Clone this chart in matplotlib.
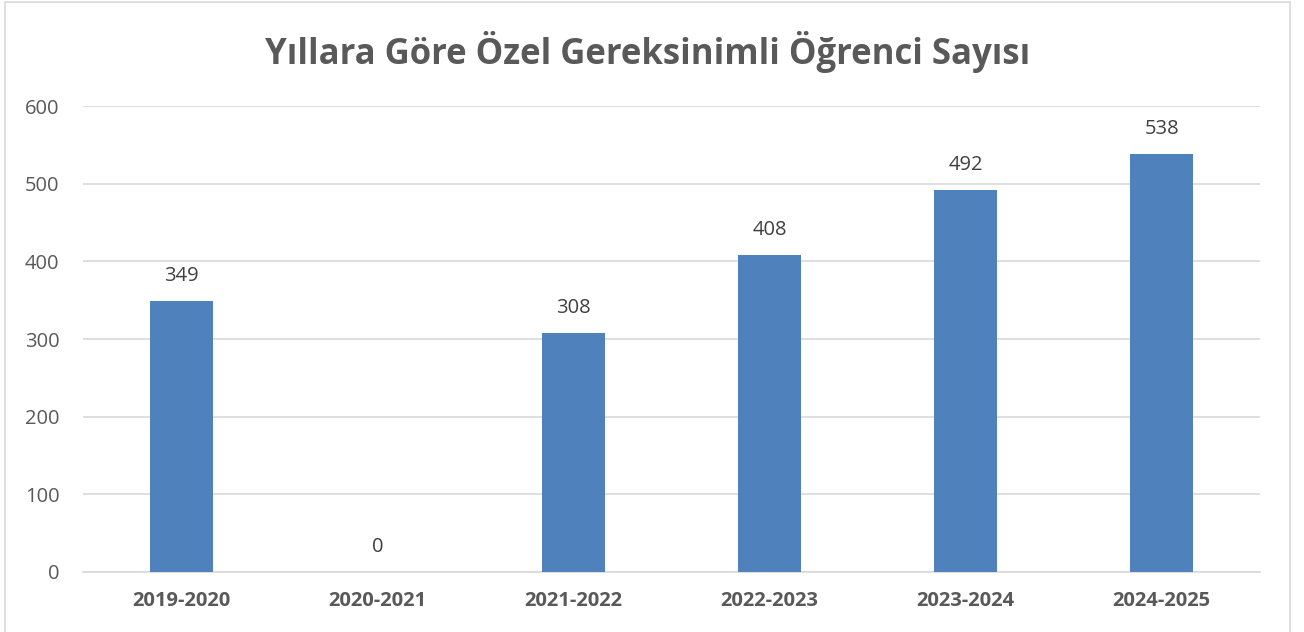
import matplotlib.pyplot as plt
from matplotlib.patches import Rectangle

# Veriler
yillar = ['2019-2020', '2020-2021', '2021-2022', '2022-2023', '2023-2024', '2024-2025']
ogrenci_sayisi = [349, 0, 308, 408, 492, 538]

plt.rcParams['font.family'] = ['Open Sans', 'DejaVu Sans']

fig = plt.figure(figsize=(13.04, 6.32), dpi=100)
ax = fig.add_axes([0.0637, 0.095, 0.9025, 0.737])

bars = ax.bar(yillar, ogrenci_sayisi, width=0.32, color='#4F81BD', zorder=3)
ax.set_ylim(0, 600)
ax.set_xlim(-0.5, len(yillar) - 0.5)
ax.set_yticks(range(0, 601, 100))
ax.grid(axis='y', color='#D9D9D9', linewidth=1.2, zorder=0)
for s in ['top', 'right', 'left']:
    ax.spines[s].set_visible(False)
ax.spines['bottom'].set_color('#D9D9D9')
ax.spines['bottom'].set_linewidth(1.2)
ax.tick_params(axis='both', length=0, colors='#595959', labelsize=14.5)
ax.tick_params(axis='y', pad=17)
ax.tick_params(axis='x', pad=14)
for lbl in ax.get_xticklabels():
    lbl.set_fontweight('bold')

for bar in bars:
    yval = bar.get_height()
    ax.annotate(f'{yval:.0f}', (bar.get_x() + bar.get_width() / 2, yval),
                xytext=(0, 11), textcoords='offset points',
                ha='center', va='bottom', fontsize=14.5, color='#404040')

fig.text(0.497, 0.918, 'Yıllara Göre Özel Gereksinimli Öğrenci Sayısı',
         ha='center', va='center', fontsize=25, fontweight='bold', color='#595959')

# Çerçeve
fig.patches.append(Rectangle((0.004, -0.01), 0.985, 1.007, transform=fig.transFigure,
                             fill=False, edgecolor='#D9D9D9', linewidth=1.2))

fig.savefig('out.png', dpi=100)
